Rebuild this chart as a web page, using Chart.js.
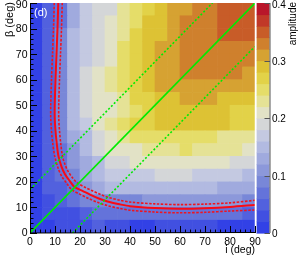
<!DOCTYPE html>
<html><head><meta charset="utf-8">
<script src="https://cdn.jsdelivr.net/npm/chart.js@4.4.1/dist/chart.umd.min.js"></script>
<style>html,body{margin:0;padding:0;background:#fff;}#wrap{width:300px;height:259px;position:relative;}</style>
</head><body><div id="wrap"><canvas id="c" width="300" height="259"></canvas></div>
<script>
// ---- data ----
const iBins = [0,5,10,15,20,25,30,35,40,45,50,55,60,65,70,75,80,85];      // lower edges (deg)
const betaBins = [0,5,10,15,20,25,30,35,40,45,50,55,60,65,70,75,80,85];   // lower edges (deg)
const binWidth = 5;
// amplitude[row = beta bin][col = i bin]
const amplitude = [
 [0.01,0.01,0.03,0.03,0.03,0.05,0.03,0.03,0.01,0.01,0.03,0.03,0.03,0.03,0.03,0.01,0.01,0.01],
 [0.01,0.03,0.03,0.03,0.05,0.07,0.07,0.07,0.07,0.07,0.07,0.07,0.07,0.07,0.07,0.07,0.07,0.05],
 [0.01,0.03,0.05,0.07,0.09,0.09,0.09,0.09,0.09,0.11,0.11,0.11,0.11,0.11,0.11,0.11,0.11,0.09],
 [0.01,0.05,0.05,0.07,0.11,0.13,0.15,0.15,0.15,0.15,0.15,0.15,0.15,0.15,0.15,0.13,0.13,0.13],
 [0.01,0.05,0.07,0.09,0.13,0.15,0.17,0.17,0.17,0.17,0.19,0.19,0.19,0.17,0.17,0.17,0.17,0.15],
 [0.01,0.05,0.07,0.11,0.13,0.15,0.19,0.19,0.21,0.21,0.21,0.21,0.21,0.21,0.21,0.21,0.19,0.19],
 [0.01,0.05,0.07,0.11,0.15,0.19,0.21,0.21,0.21,0.23,0.23,0.23,0.25,0.23,0.23,0.23,0.23,0.21],
 [0.01,0.05,0.09,0.13,0.15,0.19,0.21,0.23,0.25,0.25,0.25,0.25,0.25,0.25,0.25,0.23,0.23,0.23],
 [0.01,0.05,0.09,0.15,0.17,0.21,0.23,0.25,0.27,0.27,0.29,0.29,0.29,0.29,0.29,0.29,0.27,0.27],
 [0.01,0.05,0.09,0.15,0.19,0.21,0.21,0.23,0.25,0.27,0.29,0.29,0.29,0.29,0.29,0.29,0.27,0.27],
 [0.01,0.05,0.09,0.15,0.19,0.21,0.21,0.23,0.27,0.27,0.29,0.29,0.31,0.31,0.31,0.29,0.29,0.29],
 [0.01,0.05,0.09,0.15,0.19,0.21,0.23,0.25,0.27,0.29,0.31,0.31,0.31,0.31,0.31,0.31,0.31,0.31],
 [0.01,0.05,0.09,0.15,0.19,0.21,0.23,0.25,0.27,0.29,0.31,0.31,0.33,0.33,0.33,0.33,0.33,0.31],
 [0.01,0.05,0.09,0.15,0.17,0.19,0.21,0.25,0.27,0.29,0.31,0.31,0.33,0.33,0.33,0.33,0.33,0.33],
 [0.01,0.05,0.09,0.15,0.17,0.19,0.21,0.25,0.27,0.29,0.31,0.31,0.33,0.33,0.33,0.33,0.33,0.33],
 [0.01,0.05,0.09,0.15,0.17,0.19,0.21,0.23,0.27,0.29,0.29,0.31,0.33,0.33,0.33,0.35,0.35,0.35],
 [0.01,0.05,0.07,0.13,0.17,0.19,0.21,0.23,0.25,0.29,0.29,0.31,0.33,0.33,0.33,0.35,0.35,0.35],
 [0.01,0.05,0.07,0.13,0.17,0.19,0.19,0.23,0.25,0.27,0.29,0.31,0.31,0.33,0.33,0.35,0.35,0.35]
];
const zLevels = [0,0.02,0.04,0.06,0.08,0.10,0.12,0.14,0.16,0.18,0.20,0.22,0.24,0.26,0.28,0.30,0.32,0.34,0.36,0.38,0.40];
const paletteColors = [
 'rgb(50,65,230)','rgb(65,80,225)','rgb(82,97,222)','rgb(100,115,218)','rgb(120,135,216)',
 'rgb(140,152,218)','rgb(160,170,222)','rgb(178,186,225)','rgb(196,201,225)','rgb(212,214,216)',
 'rgb(226,226,198)','rgb(229,226,150)','rgb(229,221,105)','rgb(226,210,72)','rgb(221,194,52)',
 'rgb(214,162,50)','rgb(207,128,45)','rgb(200,92,40)','rgb(193,56,40)','rgb(185,22,42)'
];
const xTicks = [0,10,20,30,40,50,60,70,80,90];
const yTicks = [0,10,20,30,40,50,60,70,80,90];
const zTicks = [0,0.1,0.2,0.3,0.4];
const zTickLabels = ['0','0.1','0.2','0.3','0.4'];
// red curve (centre) and its band
const redMidI = [11.3,11.0,10.6,10.2,9.9,9.9,10.2,10.7,11.4,12.6,14.0,15.8,17.8,21.0,24.0,27.5,31,36,40,50,60,70,80,90];
const redMidB = [90,80,70,60,50,45,40,35,30,26,23,20.5,18.0,16.5,15.0,13.5,12.3,11.2,10.5,9.8,9.5,9.7,10.2,11.0];
const redInI  = [9.7,9.4,9.0,8.6,8.3,8.3,8.6,9.1,9.9,11.3,12.8,14.7,16.7,19.9,23.2,27,31,36,40,50,60,70,80,90];
const redInB  = [90,80,70,60,50,45,40,35,30,25.2,22,19.4,16.9,15.2,13.6,12,10.7,9.6,8.9,8.2,7.9,8.1,8.6,9.0];
const redOutI = [12.9,12.6,12.2,11.8,11.5,11.5,11.8,12.3,13.0,14.0,15.3,17.0,19.0,22.2,25.0,28.3,31.5,36,40,50,60,70,80,90];
const redOutB = [90,80,70,60,50,45,40,35,30,26.8,24,21.6,19.5,17.8,16.5,15,13.9,12.8,12.1,11.4,11.1,11.3,11.8,12.8];
// green lines
const greenDiagI = [0,90],  greenDiagB = [0,90];
const greenUpI   = [0,73],  greenUpB   = [17,90];
const greenLoI   = [17,90], greenLoB   = [0,73];

// ---- helpers ----
const FONT = '"Liberation Sans", Arial, Helvetica, sans-serif';
function colorFor(v){
  for (let k = paletteColors.length - 1; k >= 0; k--) if (v >= zLevels[k]) return paletteColors[k];
  return paletteColors[0];
}
function pts(xs, ys){ return xs.map((x,k)=>({x:x, y:ys[k]})); }

const datasets = [];
betaBins.forEach((b0, r) => {
  datasets.push({
    type:'bar', order:10,
    data: iBins.map(i0 => ({x: i0 + binWidth/2, y: [b0, b0 + binWidth]})),
    backgroundColor: amplitude[r].map(colorFor),
    borderWidth:0, grouped:false, categoryPercentage:1, barPercentage:1
  });
});
const lineBase = {type:'line', pointRadius:0, fill:false, tension:0.3};
datasets.push(Object.assign({}, lineBase, {order:3, data:pts(redInI, redInB), borderColor:'rgb(240,20,30)', borderWidth:1.6, borderDash:[2.5,1.5]}));
datasets.push(Object.assign({}, lineBase, {order:3, data:pts(redOutI, redOutB), borderColor:'rgb(240,20,30)', borderWidth:1.6, borderDash:[2.5,1.5]}));
datasets.push(Object.assign({}, lineBase, {order:2, data:pts(redMidI, redMidB), borderColor:'rgb(250,10,20)', borderWidth:2}));
datasets.push(Object.assign({}, lineBase, {order:1, tension:0, data:pts(greenDiagI, greenDiagB), borderColor:'rgb(0,235,0)', borderWidth:1.6}));
datasets.push(Object.assign({}, lineBase, {order:1, tension:0, data:pts(greenUpI, greenUpB), borderColor:'rgb(0,235,0)', borderWidth:1.6, borderDash:[2,2]}));
datasets.push(Object.assign({}, lineBase, {order:1, tension:0, data:pts(greenLoI, greenLoB), borderColor:'rgb(0,235,0)', borderWidth:1.6, borderDash:[2,2]}));

const overlay = {
  id:'overlay',
  afterDatasetsDraw(chart){
    const {ctx, chartArea:a, scales} = chart;
    const xs = scales.x, ys = scales.y, zs = scales.zScale;
    ctx.save();
    // colour bar
    const cbL = a.right + 1.5, cbR = a.right + 14.5;
    for (let k = 0; k < paletteColors.length; k++) {
      const top = zs.getPixelForValue(zLevels[k+1]), bot = zs.getPixelForValue(zLevels[k]);
      ctx.fillStyle = paletteColors[k];
      ctx.fillRect(cbL, top, cbR - cbL, bot - top + 0.6);
    }
    ctx.strokeStyle = '#ffffff'; ctx.lineWidth = 1.5;
    ctx.beginPath(); ctx.moveTo(a.right + 0.5, a.top); ctx.lineTo(a.right + 0.5, a.bottom); ctx.stroke();
    ctx.strokeStyle = '#555'; ctx.lineWidth = 1;
    ctx.beginPath(); ctx.moveTo(cbR + 0.5, zs.getPixelForValue(0.4)); ctx.lineTo(cbR + 0.5, zs.getPixelForValue(0)); ctx.stroke();
    ctx.fillStyle = '#000'; ctx.font = '10px ' + FONT; ctx.textAlign = 'left'; ctx.textBaseline = 'middle';
    zTicks.forEach((v, k) => {
      const py = Math.round(zs.getPixelForValue(v)) + 0.5;
      ctx.beginPath(); ctx.moveTo(cbR + 0.5, py); ctx.lineTo(cbR - 5, py); ctx.stroke();
      ctx.fillText(zTickLabels[k], cbR + 2.5, Math.max(py + 1, 5.5));
    });
    // y tick labels
    ctx.font = '10.5px ' + FONT; ctx.textAlign = 'right'; ctx.textBaseline = 'middle';
    yTicks.forEach(v => {
      const py = ys.getPixelForValue(v);
      ctx.fillText(String(v), a.left - 2.5, Math.max(py + 0.5, 5.5));
    });
    // axis ticks inside the frame
    ctx.strokeStyle = '#000'; ctx.lineWidth = 1;
    for (let v = 0; v <= 90; v += 2) {
      const len = (v % 10 === 0) ? 7 : 3.5;
      const px = Math.round(xs.getPixelForValue(v)) + 0.5;
      ctx.beginPath(); ctx.moveTo(px, a.bottom); ctx.lineTo(px, a.bottom - len); ctx.stroke();
      const py = Math.round(ys.getPixelForValue(v)) + 0.5;
      ctx.beginPath(); ctx.moveTo(a.left, py); ctx.lineTo(a.left + len, py); ctx.stroke();
    }
    ctx.beginPath(); ctx.moveTo(a.left + 0.5, a.top); ctx.lineTo(a.left + 0.5, a.bottom);
    ctx.lineTo(a.right, a.bottom - 0.5); ctx.stroke();
    // texts
    ctx.fillStyle = '#ffffff';
    ctx.font = '11px ' + FONT; ctx.textAlign = 'left'; ctx.textBaseline = 'top';
    ctx.fillText('(d)', a.left + 4, a.top + 4);
    ctx.fillStyle = '#000';
    ctx.font = '10.5px ' + FONT; ctx.textAlign = 'right'; ctx.textBaseline = 'middle';
    ctx.fillText('i (deg)', a.right, 250);
    ctx.save(); ctx.translate(10, a.top - 1); ctx.rotate(-Math.PI/2);
    ctx.font = '11px ' + FONT; ctx.textAlign = 'right'; ctx.textBaseline = 'middle';
    ctx.fillText('\u03b2 (deg)', 0, 0); ctx.restore();
    ctx.save(); ctx.translate(293, a.top - 1); ctx.rotate(-Math.PI/2);
    ctx.font = '10px ' + FONT; ctx.textAlign = 'right'; ctx.textBaseline = 'middle';
    ctx.fillText('amplitude', 0, 0); ctx.restore();
    ctx.restore();
  }
};

new Chart(document.getElementById('c'), {
  type:'bar',
  data:{datasets: datasets},
  options:{
    responsive:false, animation:false, events:[],
    layout:{padding:{top:3, left:0, right:0, bottom:0}},
    plugins:{legend:{display:false}, tooltip:{enabled:false}},
    scales:{
      x:{type:'linear', position:'bottom', min:0, max:90, offset:false,
         afterBuildTicks(s){ s.ticks = xTicks.map(v => ({value:v})); },
         ticks:{font:{family:FONT, size:10.5}, color:'#000', padding:3, maxRotation:0, autoSkip:false},
         grid:{display:false, drawTicks:false}, border:{display:false},
         afterFit(s){ s.height = 26; s.paddingLeft = 0; s.paddingRight = 0; }},
      y:{type:'linear', position:'left', min:0, max:90,
         afterBuildTicks(s){ s.ticks = yTicks.map(v => ({value:v})); },
         ticks:{display:false},
         grid:{display:false, drawTicks:false}, border:{display:false},
         afterFit(s){ s.width = 30; s.paddingTop = 0; s.paddingBottom = 0; }},
      zScale:{type:'linear', axis:'y', position:'right', min:0, max:0.4,
         ticks:{display:false},
         grid:{display:false, drawTicks:false}, border:{display:false},
         afterFit(s){ s.width = 45; s.paddingTop = 0; s.paddingBottom = 0; }}
    }
  },
  plugins:[overlay]
});
</script></body></html>
